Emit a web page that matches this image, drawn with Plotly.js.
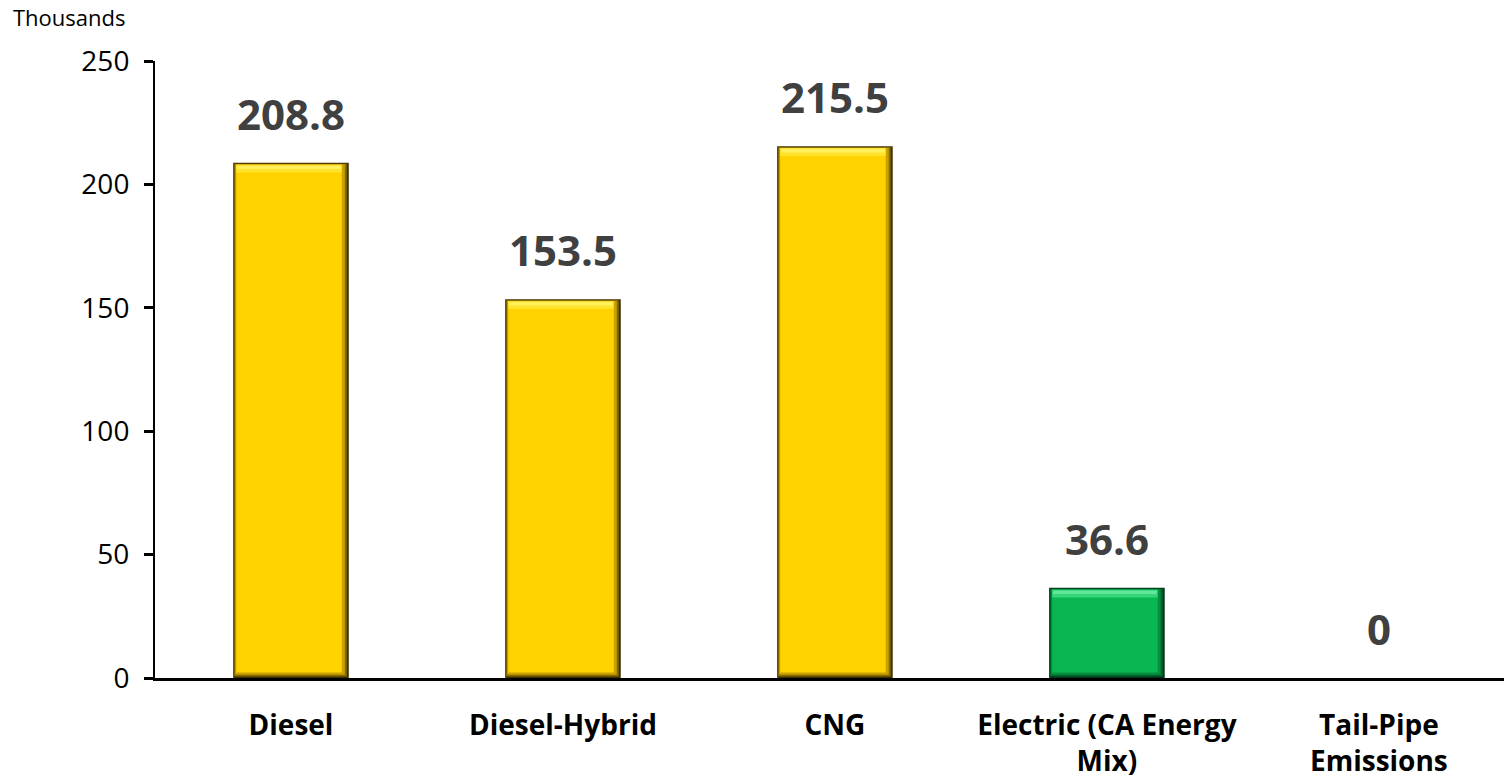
<!DOCTYPE html>
<html>
<head>
<meta charset="utf-8">
<script src="https://cdn.plot.ly/plotly-3.0.1.min.js"></script>
<style>
  html, body { margin: 0; padding: 0; background: #fff; }
  #chart { width: 1504px; height: 781px; }
</style>
</head>
<body>
<div id="chart"></div>
<script>
// Emissions per vehicle type (thousands)
const categories = ['Diesel', 'Diesel-Hybrid', 'CNG', 'Electric (CA Energy<br>Mix)', 'Tail-Pipe<br>Emissions'];
const values = [208.8, 153.5, 215.5, 36.6, 0];
const valueLabels = ['208.8', '153.5', '215.5', '36.6', '0'];
const yTicks = [0, 50, 100, 150, 200, 250];

// colour family per bar, from the outer edge inwards
const isElectric = [false, false, false, true, false];
const pick = (g, y) => isElectric.map(e => e ? g : y);
const edge   = pick('#00361a', '#3f3100');
const shadow = pick('#02652c', '#876a00');
const mid    = pick('#058f3e', '#c9a200');
const fill   = pick('#08b652', '#ffd200');
const light  = pick('#35d57a', '#ffe22a');
const bright = pick('#62e89c', '#fff05c');

const font = 'Open Sans, Noto Sans, DejaVu Sans, sans-serif';
const barW = 0.425;
const px = 1 / 271.5;   // one pixel in category units

// one bevel layer: inset from left/right (category units) and bottom/top (axis units)
function layer(color, insetL, insetR, insetB, insetT) {
  return {
    type: 'bar', x: categories,
    base: values.map(v => v > 0 ? insetB : 0),
    y: values.map(v => v > 0 ? Math.max(v - insetB - insetT, 0) : 0),
    offset: -barW / 2 + insetL,
    width: barW - insetL - insetR,
    marker: { color: color, line: { width: 0 } },
    hoverinfo: 'skip'
  };
}
// band measured down from the top of each bar
function topBand(color, insetL, insetR, from, to) {
  return {
    type: 'bar', x: categories,
    base: values.map(v => v > 0 ? v - to : 0),
    y: values.map(v => v > 0 ? to - from : 0),
    offset: -barW / 2 + insetL,
    width: barW - insetL - insetR,
    marker: { color: color, line: { width: 0 } },
    hoverinfo: 'skip'
  };
}

const traces = [
  layer(edge, 0, 0, 0, 0),
  layer(shadow, 1 * px, 2 * px, 0.6, 0.4),
  layer(mid, 2 * px, 4 * px, 1.3, 0.6),
  layer(fill, 3 * px, 7 * px, 2.2, 0.8),
  topBand(light, 3 * px, 7 * px, 0.8, 4.0),
  topBand(bright, 4 * px, 8 * px, 1.2, 2.6)
];

const labels = categories.map((c, i) => ({
  x: c, y: values[i], xref: 'x', yref: 'y',
  text: valueLabels[i], showarrow: false,
  yanchor: 'bottom', yshift: 19,
  font: { family: font, size: 42, color: '#404040', weight: 700 }
}));

labels.push({
  x: 0, y: 1, xref: 'paper', yref: 'paper',
  xanchor: 'left', yanchor: 'top', xshift: -144, yshift: 61,
  text: 'Thousands', showarrow: false,
  font: { family: font, size: 22, color: '#000' }
});

const layout = {
  width: 1504, height: 781,
  margin: { l: 155, r: 0, t: 61, b: 103 },
  paper_bgcolor: '#fff', plot_bgcolor: '#fff',
  barmode: 'overlay',
  showlegend: false,
  xaxis: {
    type: 'category',
    range: [-0.5, 4.46],
    showline: true, linecolor: '#000', linewidth: 3,
    ticks: '', showgrid: false, zeroline: false,
    tickfont: { family: font, size: 28, color: '#000', weight: 700 },
    ticklabelstandoff: 20
  },
  yaxis: {
    range: [0, 250], tickvals: yTicks,
    showline: true, linecolor: '#000', linewidth: 2,
    ticks: 'outside', ticklen: 9, tickwidth: 3, tickcolor: '#000',
    showgrid: false, zeroline: false,
    tickfont: { family: font, size: 28, color: '#000' },
    ticklabelstandoff: 9
  },
  annotations: labels
};

Plotly.newPlot('chart', traces, layout, { displayModeBar: false, staticPlot: true });
</script>
</body>
</html>
